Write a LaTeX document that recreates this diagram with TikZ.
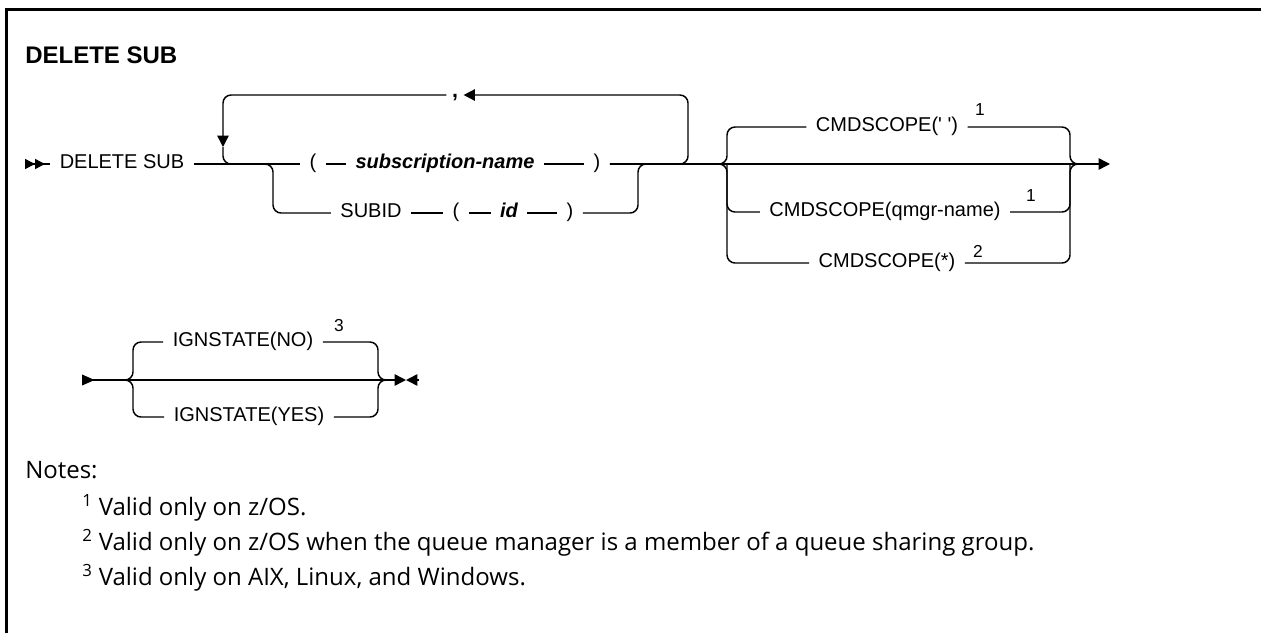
\documentclass[tikz,border=0pt]{standalone}
\usepackage{fontspec}
\setmainfont{Liberation Sans}
\newfontfamily\notesfont{Open Sans}
\usetikzlibrary{arrows.meta}

\begin{document}
\begin{tikzpicture}[
x=0.75pt,
y=-0.75pt,
>={Triangle[length=8.5pt,width=8.5pt]},
rail/.style={
line width=1.1pt,
rounded corners=6pt
},
tok/.style={
inner xsep=7pt,
inner ysep=0pt,
text height=11pt,
text depth=4pt,
font=\fontsize{15}{18}\selectfont
},
var/.style={
tok,
font=\fontsize{15}{18}\selectfont\bfseries\itshape
},
supnum/.style={
inner sep=0pt,
font=\fontsize{13}{15}\selectfont
},
note/.style={
anchor=base west,
inner sep=0pt,
font=\notesfont\fontsize{18}{21}\selectfont
}
]

\useasboundingbox (0,0) rectangle (1261,633);

% frame
\draw[line width=2.2pt] (6.5,633) |- (1261,9.5);

% title
\node[anchor=base west, inner sep=0pt, font=\fontsize{18}{22}\selectfont\bfseries] (title) at (25,63) {DELETE SUB};


% junctions
\coordinate (start) at (25,164);
\coordinate (jA) at (223,164);
\coordinate (jAarr) at (223,147);
\coordinate (jB) at (273,164);
\coordinate (jC) at (638,164);
\coordinate (jD) at (688,164);
\coordinate (loopL) at (223,95);
\coordinate (loopR) at (688,95);
\coordinate (bl) at (727,164);
\coordinate (br) at (1070,164);
\coordinate (bro) at (1085,164);
\coordinate (fin) at (1110,164);


% main line
\node[tok] (cmd) at (122,164) {DELETE SUB};
\node[tok] (lp1) at (313,164) {(};
\node[var] (subn) at (445,164) {subscription-name};
\node[tok] (rp1) at (597,164) {)};

\node[tok] (subid) at (371,213) {SUBID};
\node[tok] (lp2) at (456,213) {(};
\node[var] (idn) at (509,213) {id};
\node[tok] (rp2) at (570,213) {)};

\node[inner xsep=4pt, inner ysep=0pt, anchor=base, font=\fontsize{16}{18}\selectfont\bfseries] (comma) at (455,97) {,};

\draw[rail,{Triangle[reversed,length=7.5pt,width=7.5pt]Triangle[reversed,length=7.5pt,width=7.5pt]}-] (start) -- (cmd.west);
\draw[rail] (cmd.east) -- (lp1.west);
\draw[rail] (lp1.east) -- (subn.west);
\draw[rail] (subn.east) -- (rp1.west);
\draw[rail,->] (rp1.east) -- (fin);

\draw[rail] (jA) -| (jB |- subid) -- (subid.west);
\draw[rail] (subid.east) -- (lp2.west);
\draw[rail] (lp2.east) -- (idn.west);
\draw[rail] (idn.east) -- (rp2.west);
\draw[rail] (rp2.east) -| (jC) -- (jD);

% repeat
\draw[rail,->] (jC) -| (loopR) -- (comma.east |- loopR);
\draw[rail,->] (comma.west |- loopL) -- (loopL) -- (jAarr);
\draw[rail] (jAarr) |- (jB);


% CMDSCOPE
\node[tok] (cs1) at (887,127) {CMDSCOPE(\textquotesingle\ \textquotesingle)};
\node[tok] (cs2) at (885,212) {CMDSCOPE(qmgr-name)};
\node[tok] (cs3) at (887,263) {CMDSCOPE(*)};
\node[supnum] (n1a) at (980,110) {1};
\node[supnum] (n1b) at (1031,196) {1};
\node[supnum] (n2) at (978,251) {2};

\draw[rail] (rp1.east) -| (bl |- cs1) -- (cs1.west);
\draw[rail] (rp1.east) -| (bl |- cs3) -- (cs3.west);
\draw[rail] (bl) |- (cs2.west);
\draw[rail] (cs1.east) -| (br) -- (bro);
\draw[rail] (cs2.east) -| (br);
\draw[rail] (cs3.east) -| (br) -- (bro);


% IGNSTATE
\coordinate (ig0) at (82,380);
\coordinate (igl) at (133,380);
\coordinate (igr) at (378,380);
\coordinate (igx) at (392,380);
\coordinate (igmid) at (406,380);
\coordinate (igend) at (419,380);

\node[tok] (ig1) at (243,342) {IGNSTATE(NO)};
\node[tok] (ig2) at (249,417) {IGNSTATE(YES)};
\node[supnum] (n3) at (339,326) {3};

\draw[rail,{Triangle[reversed,length=9.5pt,width=8pt]}->] (ig0) -- (igmid);
\draw[rail,->] (igend) -- (igmid);
\draw[rail] (ig0) -| (igl |- ig1) -- (ig1.west);
\draw[rail] (ig0) -| (igl |- ig2) -- (ig2.west);
\draw[rail] (ig1.east) -| (igr) -- (igx);
\draw[rail] (ig2.east) -| (igr) -- (igx);


% notes
\node[note] (notes) at (25,478) {Notes:};
\node[note] (note1) at (82,515) {\textsuperscript{1} Valid only on z/OS.};
\node[note] (note2) at (82,550) {\textsuperscript{2} Valid only on z/OS when the queue manager is a member of a queue sharing group.};
\node[note] (note3) at (82,585) {\textsuperscript{3} Valid only on AIX, Linux, and Windows.};

\end{tikzpicture}
\end{document}
